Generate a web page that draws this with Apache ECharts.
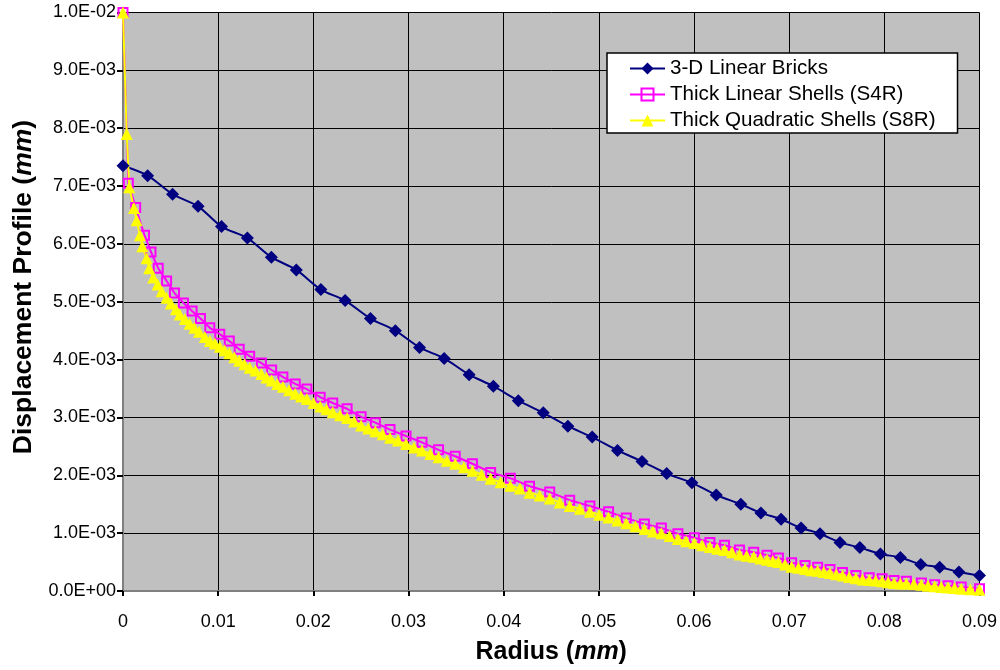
<!DOCTYPE html>
<html>
<head>
<meta charset="utf-8">
<script src="https://cdn.jsdelivr.net/npm/echarts@6/dist/echarts.min.js"></script>
<style>
  html, body { margin: 0; padding: 0; background: #ffffff; }
  #chart { width: 1000px; height: 670px; }
</style>
</head>
<body>
<div id="chart"></div>
<script>
// ---- Data (x = radius in mm, y = displacement in mm) ----
const seriesNames = ['3-D Linear Bricks', 'Thick Linear Shells (S4R)', 'Thick Quadratic Shells (S8R)'];

const xTickLabels = ['0', '0.01', '0.02', '0.03', '0.04', '0.05', '0.06', '0.07', '0.08', '0.09'];
const yTickLabels = ['0.0E+00', '1.0E-03', '2.0E-03', '3.0E-03', '4.0E-03', '5.0E-03',
                     '6.0E-03', '7.0E-03', '8.0E-03', '9.0E-03', '1.0E-02'];

const bricksX = [0, 0.00259, 0.00521, 0.00789, 0.01035, 0.01307, 0.01559, 0.01821, 0.02079, 0.02334,
  0.02600, 0.02862, 0.03116, 0.03375, 0.03637, 0.03892, 0.04154, 0.04416, 0.04675, 0.04930,
  0.05196, 0.05454, 0.05713, 0.05978, 0.06234, 0.06492, 0.06703, 0.06915, 0.07125, 0.07324,
  0.07534, 0.07743, 0.07959, 0.08169, 0.08383, 0.08582, 0.08784, 0.09];
const bricksY = [7.35e-3, 7.18e-3, 6.86e-3, 6.65e-3, 6.30e-3, 6.10e-3, 5.77e-3, 5.55e-3, 5.21e-3, 5.02e-3,
  4.71e-3, 4.50e-3, 4.21e-3, 4.02e-3, 3.74e-3, 3.54e-3, 3.29e-3, 3.08e-3, 2.85e-3, 2.66e-3,
  2.43e-3, 2.24e-3, 2.03e-3, 1.87e-3, 1.66e-3, 1.50e-3, 1.35e-3, 1.24e-3, 1.09e-3, 0.99e-3,
  0.84e-3, 0.75e-3, 0.64e-3, 0.58e-3, 0.46e-3, 0.41e-3, 0.33e-3, 0.27e-3];

const s4rX = [0, 0.00056, 0.00133, 0.00226, 0.00294, 0.00370, 0.00458, 0.00541, 0.00635, 0.00726,
  0.00814, 0.00912, 0.01017, 0.01117, 0.01221, 0.01331, 0.01454, 0.01562, 0.01680, 0.01810,
  0.01932, 0.02072, 0.02204, 0.02355, 0.02502, 0.02652, 0.02806, 0.02974, 0.03142, 0.03316,
  0.03491, 0.03672, 0.03863, 0.04070, 0.04272, 0.04484, 0.04694, 0.04906, 0.05102, 0.05288,
  0.05479, 0.05657, 0.05831, 0.06004, 0.06167, 0.06321, 0.06478, 0.06628, 0.06768, 0.06887,
  0.07026, 0.07167, 0.07299, 0.07429, 0.07561, 0.07701, 0.07841, 0.07977, 0.08103, 0.08232,
  0.08389, 0.08529, 0.08669, 0.08808, 0.09];
const s4rY = [10.0e-3, 7.05e-3, 6.63e-3, 6.15e-3, 5.86e-3, 5.58e-3, 5.36e-3, 5.15e-3, 4.98e-3, 4.84e-3,
  4.71e-3, 4.55e-3, 4.44e-3, 4.32e-3, 4.18e-3, 4.06e-3, 3.94e-3, 3.82e-3, 3.70e-3, 3.58e-3,
  3.49e-3, 3.35e-3, 3.25e-3, 3.15e-3, 3.01e-3, 2.91e-3, 2.79e-3, 2.68e-3, 2.57e-3, 2.44e-3,
  2.33e-3, 2.20e-3, 2.05e-3, 1.95e-3, 1.81e-3, 1.71e-3, 1.57e-3, 1.47e-3, 1.37e-3, 1.26e-3,
  1.16e-3, 1.09e-3, 0.99e-3, 0.92e-3, 0.84e-3, 0.79e-3, 0.71e-3, 0.67e-3, 0.62e-3, 0.57e-3,
  0.49e-3, 0.44e-3, 0.41e-3, 0.37e-3, 0.32e-3, 0.27e-3, 0.23e-3, 0.21e-3, 0.18e-3, 0.17e-3,
  0.14e-3, 0.11e-3, 0.09e-3, 0.07e-3, 0.04e-3];

const s8rX = [0, 0.00039, 0.00066, 0.00115, 0.00143, 0.00178, 0.00203, 0.00248, 0.00276, 0.00318,
  0.00364, 0.00406, 0.00458, 0.00503, 0.00556, 0.00597, 0.00650, 0.00700, 0.00750, 0.00800,
  0.00860, 0.00912, 0.00965, 0.01017, 0.01067, 0.01117, 0.01170, 0.01221, 0.01276, 0.01331,
  0.01393, 0.01454, 0.01508, 0.01562, 0.01621, 0.01680, 0.01745, 0.01810, 0.01871, 0.01932,
  0.02002, 0.02072, 0.02138, 0.02204, 0.02280, 0.02355, 0.02429, 0.02502, 0.02577, 0.02652,
  0.02729, 0.02806, 0.02890, 0.02974, 0.03058, 0.03142, 0.03229, 0.03316, 0.03404, 0.03491,
  0.03582, 0.03672, 0.03768, 0.03863, 0.03967, 0.04070, 0.04171, 0.04272, 0.04378, 0.04484,
  0.04589, 0.04694, 0.04800, 0.04906, 0.05004, 0.05102, 0.05195, 0.05288, 0.05384, 0.05479,
  0.05568, 0.05657, 0.05744, 0.05831, 0.05918, 0.06004, 0.06086, 0.06167, 0.06244, 0.06321,
  0.06400, 0.06478, 0.06553, 0.06628, 0.06698, 0.06768, 0.06828, 0.06887, 0.06957, 0.07026,
  0.07097, 0.07167, 0.07233, 0.07299, 0.07364, 0.07429, 0.07495, 0.07561, 0.07631, 0.07701,
  0.07771, 0.07841, 0.07909, 0.07977, 0.08040, 0.08103, 0.08168, 0.08232, 0.08310, 0.08389,
  0.08459, 0.08529, 0.08599, 0.08669, 0.08738, 0.08808, 0.08904, 0.09];
const s8rY = [10.0e-3, 7.90e-3, 6.98e-3, 6.62e-3, 6.41e-3, 6.15e-3, 5.96e-3, 5.75e-3, 5.58e-3, 5.42e-3,
  5.30e-3, 5.18e-3, 5.07e-3, 4.97e-3, 4.87e-3, 4.78e-3, 4.70e-3, 4.62e-3, 4.55e-3, 4.48e-3,
  4.39e-3, 4.32e-3, 4.28e-3, 4.22e-3, 4.16e-3, 4.11e-3, 4.04e-3, 3.98e-3, 3.92e-3, 3.86e-3,
  3.81e-3, 3.75e-3, 3.69e-3, 3.64e-3, 3.58e-3, 3.53e-3, 3.47e-3, 3.41e-3, 3.36e-3, 3.32e-3,
  3.25e-3, 3.19e-3, 3.14e-3, 3.09e-3, 3.04e-3, 2.99e-3, 2.93e-3, 2.86e-3, 2.81e-3, 2.76e-3,
  2.71e-3, 2.65e-3, 2.60e-3, 2.54e-3, 2.48e-3, 2.43e-3, 2.37e-3, 2.31e-3, 2.25e-3, 2.20e-3,
  2.14e-3, 2.08e-3, 2.01e-3, 1.94e-3, 1.88e-3, 1.82e-3, 1.77e-3, 1.70e-3, 1.65e-3, 1.60e-3,
  1.53e-3, 1.47e-3, 1.42e-3, 1.37e-3, 1.32e-3, 1.27e-3, 1.22e-3, 1.17e-3, 1.12e-3, 1.07e-3,
  1.03e-3, 1.00e-3, 0.95e-3, 0.90e-3, 0.86e-3, 0.83e-3, 0.79e-3, 0.76e-3, 0.73e-3, 0.71e-3,
  0.67e-3, 0.63e-3, 0.61e-3, 0.59e-3, 0.56e-3, 0.54e-3, 0.52e-3, 0.50e-3, 0.46e-3, 0.42e-3,
  0.40e-3, 0.38e-3, 0.36e-3, 0.35e-3, 0.33e-3, 0.31e-3, 0.29e-3, 0.27e-3, 0.24e-3, 0.22e-3,
  0.20e-3, 0.19e-3, 0.18e-3, 0.17e-3, 0.15e-3, 0.14e-3, 0.13e-3, 0.13e-3, 0.12e-3, 0.11e-3,
  0.09e-3, 0.08e-3, 0.07e-3, 0.06e-3, 0.05e-3, 0.04e-3, 0.03e-3, 0.02e-3];

function pairs(xs, ys) { return xs.map((x, i) => [x, ys[i]]); }

const FONT = '"Liberation Sans", Arial, sans-serif';
const chart = echarts.init(document.getElementById('chart'), null, { renderer: 'canvas' });

const titleRich = (size) => ({
  b: { fontFamily: FONT, fontSize: size, fontWeight: 'bold', fill: '#000', color: '#000' },
  bi: { fontFamily: FONT, fontSize: size, fontWeight: 'bold', fontStyle: 'italic', fill: '#000', color: '#000' }
});

chart.setOption({
  backgroundColor: '#ffffff',
  animation: false,
  textStyle: { fontFamily: FONT, color: '#000' },
  grid: {
    left: 123, right: 18, top: 12.5, bottom: 74.5,
    show: true, backgroundColor: '#C0C0C0', borderWidth: 0
  },
  graphic: [{
    type: 'text',
    x: 24, y: 287,
    rotation: Math.PI / 2,
    style: {
      text: '{b|Displacement Profile (}{bi|mm}{b|)}',
      rich: titleRich(26.5),
      align: 'center', verticalAlign: 'middle'
    }
  }],
  legend: {
    orient: 'vertical',
    left: 607, top: 53,
    padding: [5, 22, 2, 22],
    itemGap: 5,
    itemWidth: 35, itemHeight: 15,
    backgroundColor: '#ffffff',
    borderColor: '#000000', borderWidth: 1.5,
    textStyle: { fontFamily: FONT, fontSize: 20.6, color: '#000' },
    data: seriesNames
  },
  xAxis: [{
    type: 'value', min: 0, max: 0.09, interval: 0.01,
    name: '{b|Radius (}{bi|mm}{b|)}',
    nameLocation: 'middle', nameGap: 49,
    nameTextStyle: { rich: titleRich(25) },
    axisLine: { show: true, onZero: false, lineStyle: { color: '#000', width: 2 } },
    axisTick: { show: true, length: 5, inside: false, lineStyle: { color: '#000', width: 2 } },
    axisLabel: { margin: 22, fontSize: 18, fontFamily: FONT, color: '#000',
      formatter: v => xTickLabels[Math.round(v / 0.01)] },
    splitLine: { show: true, lineStyle: { color: '#000', width: 1 } }
  }, {
    type: 'value', min: 0, max: 0.09, position: 'top',
    axisLine: { show: true, lineStyle: { color: '#808080', width: 2 } },
    axisTick: { show: false }, axisLabel: { show: false }, splitLine: { show: false }
  }],
  yAxis: [{
    type: 'value', min: 0, max: 0.01, interval: 0.001,
    axisLine: { show: true, onZero: false, lineStyle: { color: '#000', width: 2 } },
    axisTick: { show: true, length: 6, inside: false, lineStyle: { color: '#000', width: 2 } },
    axisLabel: { margin: 7, fontSize: 18, fontFamily: FONT, color: '#000',
      formatter: v => yTickLabels[Math.round(v / 0.001)] },
    splitLine: { show: true, lineStyle: { color: '#000', width: 1 } }
  }, {
    type: 'value', min: 0, max: 0.01, position: 'right',
    axisLine: { show: true, lineStyle: { color: '#808080', width: 2 } },
    axisTick: { show: false }, axisLabel: { show: false }, splitLine: { show: false }
  }],
  series: [{
    name: seriesNames[0], type: 'line',
    data: pairs(bricksX, bricksY),
    smooth: 0.3,
    symbol: 'diamond', symbolSize: 13,
    lineStyle: { color: '#000080', width: 2 },
    itemStyle: { color: '#000080' }
  }, {
    name: seriesNames[1], type: 'line',
    data: pairs(s4rX, s4rY),
    symbol: 'rect', symbolSize: 9,
    lineStyle: { color: '#FF00FF', width: 2 },
    itemStyle: { color: 'rgba(0,0,0,0)', borderColor: '#FF00FF', borderWidth: 2 }
  }, {
    name: seriesNames[2], type: 'line',
    data: pairs(s8rX, s8rY),
    symbol: 'triangle', symbolSize: 12,
    lineStyle: { color: '#FFFF00', width: 2 },
    itemStyle: { color: '#FFFF00' }
  }]
});
</script>
</body>
</html>
